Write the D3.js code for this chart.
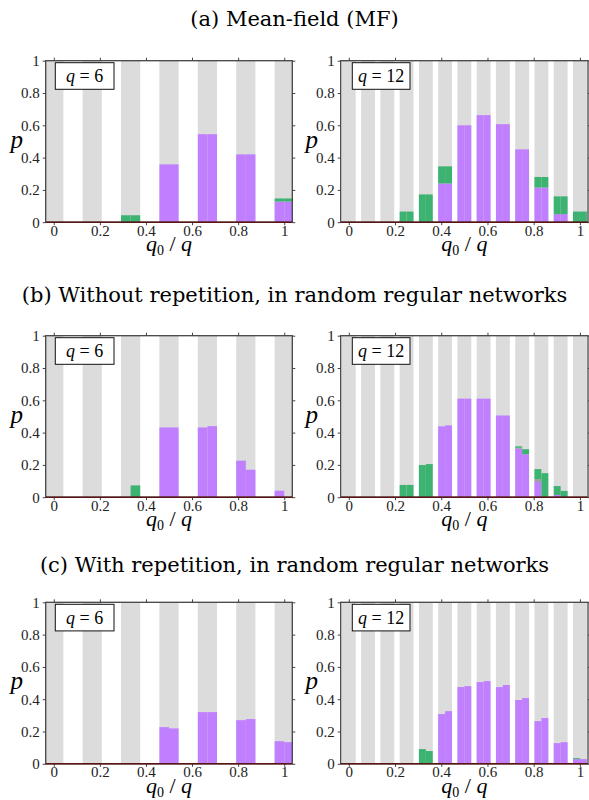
<!DOCTYPE html>
<html>
<head>
<meta charset="utf-8">
<script src="https://cdn.jsdelivr.net/npm/d3@7"></script>
<style>
  body { margin: 0; background: #fff; }
  svg { display: block; }
</style>
</head>
<body>
<div id="chart"></div>
<script>
// q0 values for each q
var q0For6 = [0, 1, 2, 3, 4, 5, 6];
var q0For12 = [0, 1, 2, 3, 4, 5, 6, 7, 8, 9, 10, 11, 12];
var yTicks = [0, 0.2, 0.4, 0.6, 0.8, 1];

var titles = ["(a) Mean-field (MF)",
              "(b) Without repetition, in random regular networks",
              "(c) With repetition, in random regular networks"];

// (a) mean-field: one value per q0
var mfPurple6 = [0, 0, 0, 0.358, 0.545, 0.42, 0.128];
var mfGreen6  = [0, 0, 0.043, 0, 0, 0, 0.019];
var mfPurple12 = [0, 0, 0, 0, 0, 0.24, 0.60, 0.663, 0.607, 0.451, 0.215, 0.05, 0];
var mfGreen12  = [0, 0, 0, 0.066, 0.172, 0.106, 0, 0, 0, 0, 0.065, 0.11, 0.066];

// (b) without repetition: [left half, right half]
var nrPurple6 = [[0,0],[0,0],[0,0],[0.432,0.432],[0.432,0.44],[0.226,0.17],[0.04,0]];
var nrGreen6  = [[0,0],[0,0],[0,0.073],[0,0],[0,0],[0,0],[0,0]];
var nrPurple12 = [[0,0],[0,0],[0,0],[0,0],[0,0],[0.439,0.445],[0.61,0.61],[0.61,0.61],
                  [0.506,0.506],[0.30,0.266],[0.094,0],[0.014,0],[0,0]];
var nrGray12   = [[0,0],[0,0],[0,0],[0,0],[0,0],[0,0],[0,0],[0,0],[0,0],[0.006,0],[0.018,0],[0,0],[0,0]];
var nrGreen12  = [[0,0],[0,0],[0,0],[0.076,0.076],[0.199,0.205],[0,0],[0,0],[0,0],[0,0],
                  [0.009,0.031],[0.062,0.149],[0.055,0.039],[0,0]];

// (c) with repetition: [left half, right half]
var wrPurple6 = [[0,0],[0,0],[0,0],[0.227,0.219],[0.32,0.32],[0.27,0.277],[0.14,0.134]];
var wrPurple12 = [[0,0],[0,0],[0,0],[0,0],[0,0],[0.308,0.326],[0.475,0.481],[0.506,0.512],
                  [0.475,0.488],[0.395,0.407],[0.264,0.283],[0.128,0.134],[0.029,0.029]];
var wrGreen12  = [[0,0],[0,0],[0,0],[0,0],[0.091,0.079],[0,0],[0,0],[0,0],[0,0],[0,0],[0,0],[0,0],[0.006,0]];

var colors = {bg: "#dcdcdc", purple: "#bf7fff", gray: "#a0a0a0", green: "#3cb371", base: "#5a1414", frame: "#444"};

var width = 589, height = 800;
var colLeft = [45.7, 340.7], colRight = [292.3, 588];
var rowTop = [60.7, 335.7, 602.3], panelH = 161.5;
var titleY = [26, 302, 572];
var serif = "'Liberation Serif', 'Times New Roman', serif";

var svg = d3.select("#chart").append("svg")
  .attr("width", width)
  .attr("height", height);

function pair(v) { return Array.isArray(v) ? v : [v, v]; }

var panels = [
  {row: 0, col: 0, q: 6, q0: q0For6, purple: mfPurple6, gray: null, green: mfGreen6},
  {row: 0, col: 1, q: 12, q0: q0For12, purple: mfPurple12, gray: null, green: mfGreen12},
  {row: 1, col: 0, q: 6, q0: q0For6, purple: nrPurple6, gray: null, green: nrGreen6},
  {row: 1, col: 1, q: 12, q0: q0For12, purple: nrPurple12, gray: nrGray12, green: nrGreen12},
  {row: 2, col: 0, q: 6, q0: q0For6, purple: wrPurple6, gray: null, green: null},
  {row: 2, col: 1, q: 12, q0: q0For12, purple: wrPurple12, gray: null, green: wrGreen12}
];

titles.forEach(function(t, i) {
  svg.append("text")
    .attr("x", width / 2)
    .attr("y", titleY[i])
    .attr("text-anchor", "middle")
    .style("font-family", "'DejaVu Serif', serif")
    .style("font-size", "21px")
    .text(t);
});

panels.forEach(function(p, idx) {
  var left = colLeft[p.col], right = colRight[p.col];
  var top = rowTop[p.row], bottom = top + panelH;
  var x = d3.scaleLinear().domain([-0.035, 1.035]).range([left, right]);
  var y = d3.scaleLinear().domain([0, 1]).range([bottom, top]);
  var barW = p.q === 6 ? 1 / 12 : 0.06;

  svg.append("clipPath").attr("id", "clip" + idx)
    .append("rect").attr("x", left).attr("y", top)
    .attr("width", right - left).attr("height", bottom - top);

  var g = svg.append("g").attr("clip-path", "url(#clip" + idx + ")");

  // grey background bars
  g.selectAll(".bg").data(p.q0).enter().append("rect")
    .attr("x", function(d) { return x(d / p.q - barW / 2); })
    .attr("y", y(1))
    .attr("width", x(barW) - x(0))
    .attr("height", y(0) - y(1))
    .attr("fill", colors.bg);

  // stacked half bars: purple, gray, green
  var segs = [];
  p.q0.forEach(function(k, i) {
    [0, 1].forEach(function(h) {
      var base = 0;
      [["purple", p.purple], ["gray", p.gray], ["green", p.green]].forEach(function(s) {
        if (!s[1]) return;
        var v = pair(s[1][i])[h];
        if (v > 0) {
          segs.push({k: k, h: h, y0: base, y1: base + v, c: colors[s[0]]});
          base += v;
        }
      });
    });
  });
  g.selectAll(".seg").data(segs).enter().append("rect")
    .attr("x", function(d) { return x(d.k / p.q - barW / 2 + d.h * barW / 2); })
    .attr("y", function(d) { return y(d.y1); })
    .attr("width", x(barW / 2) - x(0))
    .attr("height", function(d) { return y(d.y0) - y(d.y1); })
    .attr("fill", function(d) { return d.c; });

  var fmt = function(d) { return String(+d.toFixed(1)); };
  var tickStyle = function(sel) {
    sel.attr("font-family", null).attr("font-size", null);
    sel.select(".domain").remove();
    sel.selectAll("line").attr("stroke", colors.frame);
    sel.selectAll("text").style("font-family", serif)
      .style("font-size", "15px").attr("fill", "#222");
  };

  svg.append("g").attr("transform", "translate(0," + bottom + ")")
    .call(d3.axisBottom(x).tickValues(yTicks).tickFormat(fmt).tickSize(3).tickPadding(0))
    .call(tickStyle);
  svg.append("g").attr("transform", "translate(0," + top + ")")
    .call(d3.axisTop(x).tickValues(yTicks).tickFormat("").tickSize(3))
    .call(tickStyle);
  svg.append("g").attr("transform", "translate(" + left + ",0)")
    .call(d3.axisLeft(y).tickValues(yTicks).tickFormat(fmt).tickSize(3).tickPadding(3))
    .call(tickStyle);
  svg.append("g").attr("transform", "translate(" + right + ",0)")
    .call(d3.axisRight(y).tickValues(yTicks).tickFormat("").tickSize(3))
    .call(tickStyle);

  // frame
  svg.append("rect")
    .attr("x", left).attr("y", top)
    .attr("width", right - left).attr("height", bottom - top)
    .attr("fill", "none").attr("stroke", colors.frame).attr("stroke-width", 1.3);

  // baseline at p = 0
  svg.append("line")
    .attr("x1", left).attr("x2", right)
    .attr("y1", y(0)).attr("y2", y(0))
    .attr("stroke", colors.base).attr("stroke-width", 1.6);

  // q label box
  var bx = left + (p.q === 6 ? 9.6 : 11.6), bw = p.q === 6 ? 58.7 : 57.7;
  svg.append("rect")
    .attr("x", bx).attr("y", top + 2)
    .attr("width", bw).attr("height", 26.6)
    .attr("fill", "#fff").attr("stroke", "#111").attr("stroke-width", 1);
  var qt = svg.append("text")
    .attr("x", bx + bw / 2).attr("y", top + 21.6)
    .attr("text-anchor", "middle")
    .style("font-family", serif)
    .style("font-size", "18px");
  qt.append("tspan").style("font-style", "italic").text("q");
  qt.append("tspan").text(" = " + p.q);

  // axis labels
  var xl = svg.append("text")
    .attr("x", x(0.5)).attr("y", bottom + 29)
    .attr("text-anchor", "middle")
    .style("font-family", serif)
    .style("font-size", "22px");
  xl.append("tspan").style("font-style", "italic").text("q");
  xl.append("tspan").attr("dy", 4).style("font-size", "14px").text("0");
  xl.append("tspan").attr("dy", -4).text(" / ");
  xl.append("tspan").style("font-style", "italic").text("q");

  svg.append("text")
    .attr("x", left - 29).attr("y", top + 87)
    .attr("text-anchor", "middle")
    .style("font-family", serif)
    .style("font-size", "25px")
    .style("font-style", "italic")
    .text("p");
});
</script>
</body>
</html>
